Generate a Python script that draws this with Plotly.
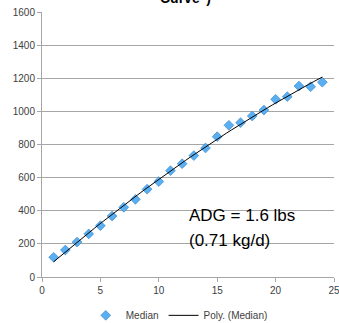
import numpy as np
import plotly.graph_objects as go

days = list(range(1, 25))
median = [119, 163, 211, 260, 310, 368, 421, 469, 530, 576, 642, 684,
          733, 779, 847, 916, 932, 972, 1008, 1073, 1089, 1153, 1149, 1176]
x_ticks = [0, 5, 10, 15, 20, 25]
y_ticks = [0, 200, 400, 600, 800, 1000, 1200, 1400, 1600]

coef = np.polyfit(days, median, 2)
trend_x = np.linspace(1, 24, 60)
trend_y = np.polyval(coef, trend_x)

fig = go.Figure()
fig.add_trace(go.Scatter(
    x=days, y=median, mode="markers", name="Median",
    marker=dict(symbol="diamond", size=7.5, color="#5aaff0",
                line=dict(color="#3b8ad0", width=0.7)),
))
fig.add_trace(go.Scatter(
    x=trend_x, y=trend_y, mode="lines", name="Poly. (Median)",
    line=dict(color="black", width=1),
))

grid = "#a6a6a6"
fig.update_layout(
    width=339, height=323,
    margin=dict(l=42, r=5, t=12, b=46, autoexpand=False),
    paper_bgcolor="white", plot_bgcolor="white",
    font=dict(family="Liberation Sans, Arial", size=10, color="#404040"),
    showlegend=True,
    legend=dict(orientation="h", x=0.47, xanchor="center", y=-0.09,
                yanchor="top", font=dict(size=10, color="#404040"),
                itemwidth=30),
    xaxis=dict(range=[0, 25], tickvals=x_ticks, showgrid=False,
               showline=True, linecolor=grid, linewidth=1,
               ticks="outside", ticklen=4, tickcolor=grid,
               ticklabeloverflow="allow",
               zeroline=False, fixedrange=True, automargin=False),
    yaxis=dict(range=[0, 1600], tickvals=y_ticks, showgrid=True,
               gridcolor=grid, gridwidth=1,
               showline=True, linecolor=grid, linewidth=1,
               ticks="outside", ticklen=4, tickcolor=grid,
               zeroline=False, fixedrange=True, automargin=False),
    annotations=[
        dict(text='<b>Curve")</b>', xref="paper", yref="paper", x=0.49, y=1.0,
             yshift=4, xanchor="center", yanchor="bottom", showarrow=False,
             font=dict(family="Liberation Sans, Arial", size=14, color="black")),
        dict(text="ADG = 1.6 lbs", xref="x", yref="y", x=12.45, y=374,
             xanchor="left", yanchor="middle", showarrow=False,
             font=dict(family="Liberation Sans, Arial", size=17, color="black")),
        dict(text="(0.71 kg/d)", xref="x", yref="y", x=12.45, y=223,
             xanchor="left", yanchor="middle", showarrow=False,
             font=dict(family="Liberation Sans, Arial", size=17, color="black")),
    ],
)

fig.write_html("out.html", config={"displayModeBar": False},
               post_script="document.body.style.margin='0';")
